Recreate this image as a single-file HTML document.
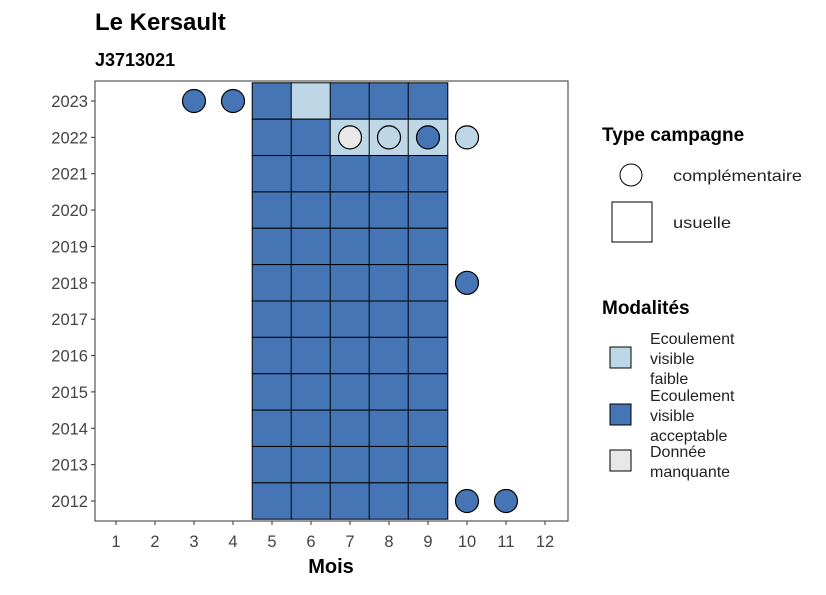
<!DOCTYPE html>
<html><head><meta charset="utf-8"><style>body{margin:0;background:#fff}svg text{font-family:"Liberation Sans",sans-serif}</style></head>
<body>
<svg id="c" width="826" height="590" xmlns="http://www.w3.org/2000/svg">
<text x="95" y="30" font-size="24" font-weight="bold" fill="#000">Le Kersault</text>
<text x="95" y="66" font-size="18" font-weight="bold" fill="#000">J3713021</text>
<g id="tiles"></g><g id="pts"></g><g id="axes"></g>
<rect x="95" y="81" width="473" height="440" fill="none" stroke="#333" stroke-width="1"/>
<text x="331" y="573" font-size="20" font-weight="bold" text-anchor="middle">Mois</text>
<g>
<text x="602" y="141" font-size="19" font-weight="bold">Type campagne</text>
<circle cx="631" cy="175" r="11" fill="#fff" stroke="#000"/>
<text x="673" y="181" font-size="16" fill="#222" textLength="129" lengthAdjust="spacingAndGlyphs">complémentaire</text>
<rect x="612" y="202" width="40" height="40" fill="#fff" stroke="#000"/>
<text x="673" y="228" font-size="16" fill="#222" textLength="58" lengthAdjust="spacingAndGlyphs">usuelle</text>
</g>
<g>
<text x="602" y="314" font-size="19" font-weight="bold">Modalités</text>
<rect x="610" y="347" width="21" height="21" fill="#bdd7e7" stroke="#000"/>
<text font-size="16" fill="#222"><tspan x="650" y="344">Ecoulement</tspan><tspan x="650" y="364">visible</tspan><tspan x="650" y="384">faible</tspan></text>
<rect x="610" y="404" width="21" height="21" fill="#4575b4" stroke="#000"/>
<text font-size="16" fill="#222"><tspan x="650" y="401">Ecoulement</tspan><tspan x="650" y="421">visible</tspan><tspan x="650" y="441">acceptable</tspan></text>
<rect x="610" y="450" width="21" height="21" fill="#e8e8e8" stroke="#000"/>
<text font-size="16" fill="#222"><tspan x="650" y="457">Donnée</tspan><tspan x="650" y="477">manquante</tspan></text>
</g>
</svg>
<script>
const months=[1,2,3,4,5,6,7,8,9,10,11,12];
const years=[2012,2013,2014,2015,2016,2017,2018,2019,2020,2021,2022,2023];
const tileYears=[2023,2023,2023,2023,2023,2022,2022,2022,2022,2022,2021,2021,2021,2021,2021,2020,2020,2020,2020,2020,2019,2019,2019,2019,2019,2018,2018,2018,2018,2018,2017,2017,2017,2017,2017,2016,2016,2016,2016,2016,2015,2015,2015,2015,2015,2014,2014,2014,2014,2014,2013,2013,2013,2013,2013,2012,2012,2012,2012,2012];
const tileMonths=[5,6,7,8,9,5,6,7,8,9,5,6,7,8,9,5,6,7,8,9,5,6,7,8,9,5,6,7,8,9,5,6,7,8,9,5,6,7,8,9,5,6,7,8,9,5,6,7,8,9,5,6,7,8,9,5,6,7,8,9];
const tileMods=['A','F','A','A','A','A','A','F','F','F'].concat(Array(50).fill('A'));
const ptYears=[2023,2023,2022,2022,2022,2022,2018,2012,2012];
const ptMonths=[3,4,7,8,9,10,10,10,11];
const ptMods=['A','A','M','F','A','F','A','A','A'];
const colors={A:'#4575b4',F:'#bdd7e7',M:'#e8e8e8'};
const NS='http://www.w3.org/2000/svg';
const xS=m=>116+(m-1)*39;
const yS=y=>501-(y-2012)*(400/11);
const tw=39.6,th=400/11;
function mk(t,a,p){const e=document.createElementNS(NS,t);for(const k in a)e.setAttribute(k,a[k]);p.appendChild(e);return e;}
const T=document.getElementById('tiles'),P=document.getElementById('pts'),A=document.getElementById('axes');
tileYears.forEach((y,i)=>{const r=mk('rect',{x:xS(tileMonths[i])-tw/2,y:yS(y)-th/2,width:tw,height:th,fill:colors[tileMods[i]],stroke:'#000','stroke-width':1},T);

});
ptYears.forEach((y,i)=>{const c=mk('circle',{cx:xS(ptMonths[i]),cy:yS(y),r:11.5,fill:colors[ptMods[i]],stroke:'#000','stroke-width':1.2},P);

});
months.forEach(m=>{mk('line',{x1:xS(m),x2:xS(m),y1:521,y2:525,stroke:'#333'},A);
const t=mk('text',{x:xS(m),y:547,'font-size':16.5,'text-anchor':'middle',fill:'#444'},A);t.textContent=m;

});
years.forEach(y=>{mk('line',{x1:91,x2:95,y1:yS(y),y2:yS(y),stroke:'#333'},A);
const t=mk('text',{x:88,y:yS(y)+6,'font-size':16.5,'text-anchor':'end',fill:'#444'},A);t.textContent=y;

});
</script>
</body></html>
